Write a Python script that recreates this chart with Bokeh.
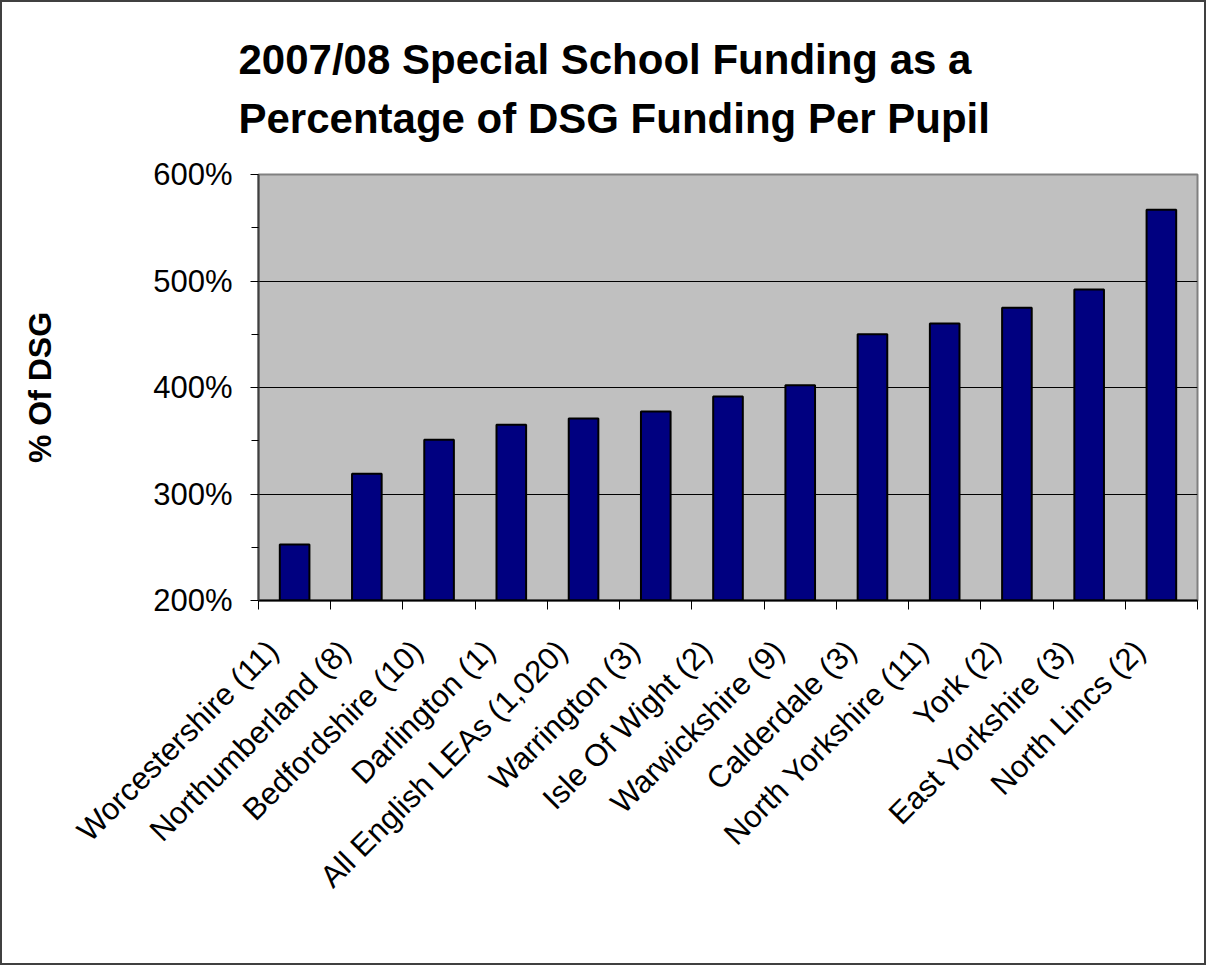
import math
from bokeh.plotting import figure
from bokeh.models import FixedTicker, Range1d, Title
from bokeh.embed import file_html
from bokeh.resources import INLINE

categories = ["Worcestershire (11)", "Northumberland (8)", "Bedfordshire (10)", "Darlington (1)",
              "All English LEAs (1,020)", "Warrington (3)", "Isle Of Wight (2)", "Warwickshire (9)",
              "Calderdale (3)", "North Yorkshire (11)", "York (2)", "East Yorkshire (3)", "North Lincs (2)"]
values = [252.5, 319, 351, 365, 371, 377.5, 391.5, 402, 450, 460, 475, 492, 567]
y_ticks = [200, 300, 400, 500, 600]
y_tick_labels = ["200%", "300%", "400%", "500%", "600%"]
y_minor = [250, 350, 450, 550]
title_lines = ["2007/08 Special School Funding as a", "Percentage of DSG Funding Per Pupil"]
y_label = "% Of DSG"

FONT = "Liberation Sans"
n = len(categories)
centers = [i + 0.5 for i in range(n)]
bounds = list(range(n + 1))
label_pos = [c - 0.3 for c in centers]  # rotated labels hang left of the bar centre

p = figure(width=1206, height=965, output_backend="svg", toolbar_location=None,
           x_range=Range1d(0, n), y_range=Range1d(200, 600),
           min_border_left=256, min_border_right=11, min_border_top=172, min_border_bottom=367)
p.styles = {"border": "2px solid #404040"}
p.background_fill_color = "#C0C0C0"
p.border_fill_color = "white"
p.outline_line_color = "#808080"
p.outline_line_width = 2

p.vbar(x=centers, top=values, bottom=200, width=0.41, fill_color="#000080",
       line_color="black", line_width=2)

# grids
p.xgrid.visible = False
p.ygrid.ticker = FixedTicker(ticks=y_ticks)
p.ygrid.grid_line_color = "black"
p.ygrid.grid_line_width = 1

# y axis
ya = p.yaxis[0]
ya.ticker = FixedTicker(ticks=y_ticks, minor_ticks=y_minor)
ya.major_label_overrides = {t: l for t, l in zip(y_ticks, y_tick_labels)}
ya.axis_line_color = "#404040"
ya.axis_line_width = 2
ya.major_tick_out = 8
ya.major_tick_in = 0
ya.minor_tick_out = 7
ya.minor_tick_in = 0
ya.major_tick_line_color = "black"
ya.minor_tick_line_color = "black"
ya.major_label_text_font = FONT
ya.major_label_text_font_size = "31px"
ya.major_label_text_color = "black"
ya.major_label_standoff = 18
ya.axis_label = y_label
ya.axis_label_text_font = FONT
ya.axis_label_text_font_style = "bold"
ya.axis_label_text_font_size = "32px"
ya.axis_label_text_color = "black"
ya.axis_label_standoff = 92

# x axis
xa = p.xaxis[0]
xa.ticker = FixedTicker(ticks=label_pos, minor_ticks=bounds)
xa.major_label_overrides = {c: name for c, name in zip(label_pos, categories)}
xa.axis_line_color = "black"
xa.axis_line_width = 2
xa.major_tick_out = 0
xa.major_tick_in = 0
xa.minor_tick_out = 9
xa.minor_tick_in = 0
xa.minor_tick_line_color = "black"
xa.major_label_orientation = math.pi / 4
xa.major_label_text_font = FONT
xa.major_label_text_font_size = "31px"
xa.major_label_text_color = "black"
xa.major_label_standoff = 36

# two-line title
p.add_layout(Title(text="\n".join(title_lines), align="left", offset=-20, text_font=FONT,
                   text_font_style="bold", text_font_size="42px", text_color="black",
                   text_line_height=1.26, standoff=64), "above")

open("out.html", "w").write(file_html(p, INLINE))
